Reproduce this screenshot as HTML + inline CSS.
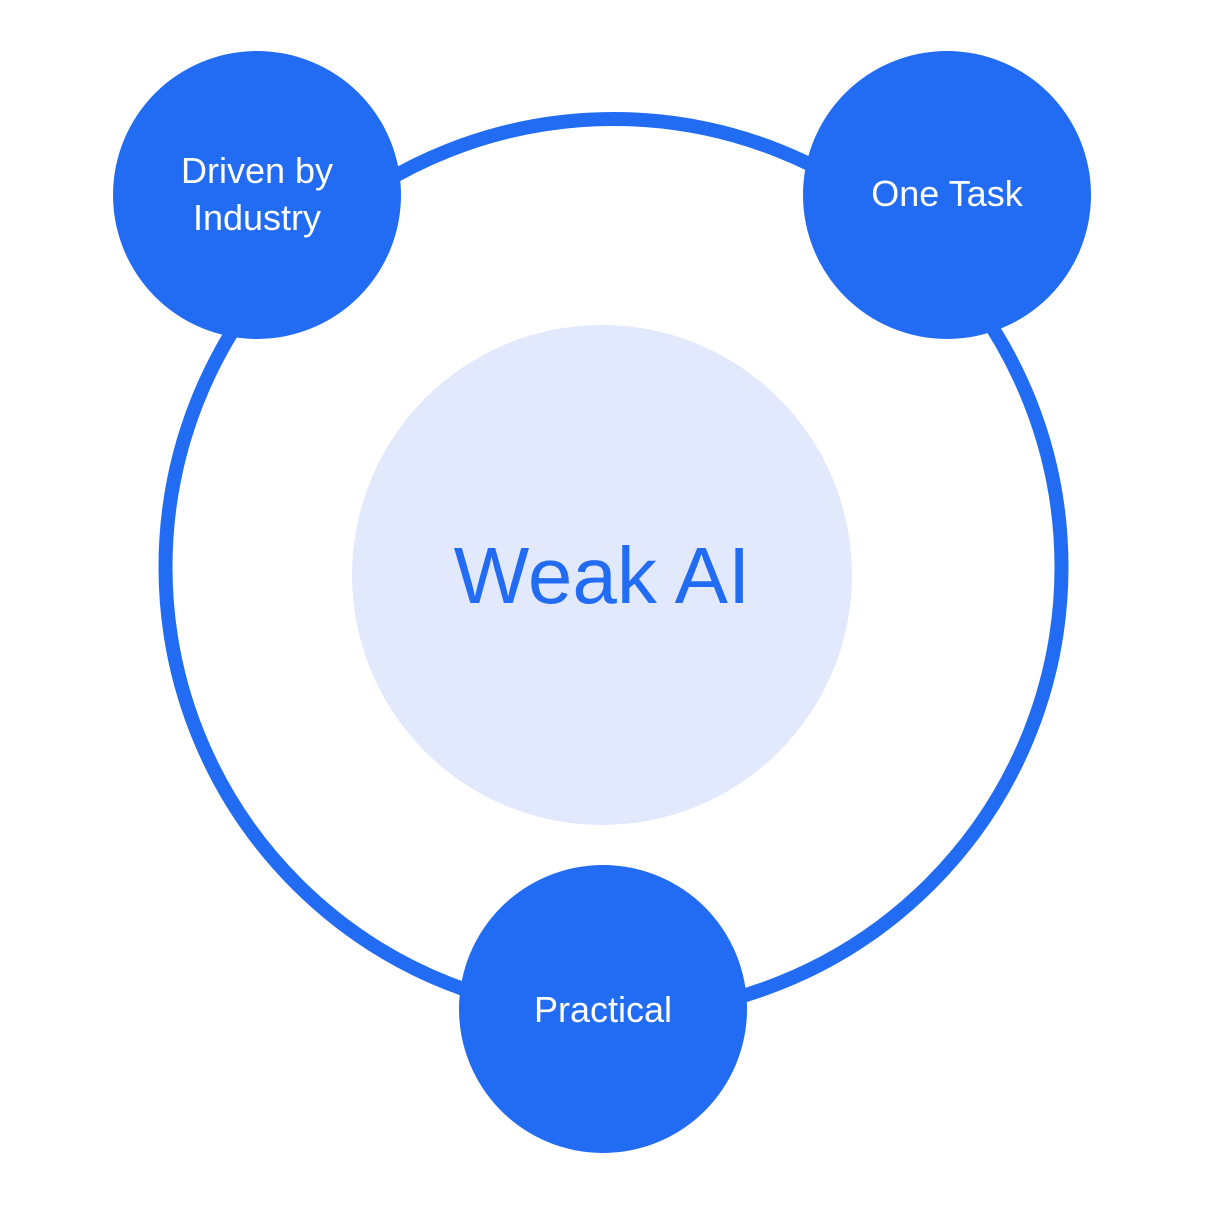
<!DOCTYPE html>
<html><head><meta charset="utf-8"><style>
html,body{margin:0;padding:0;background:#fff;}
svg{display:block;}
text{font-family:"Liberation Sans",sans-serif;}
</style></head><body>
<svg width="1205" height="1205" viewBox="0 0 1205 1205" xmlns="http://www.w3.org/2000/svg">
<rect width="1205" height="1205" fill="#fff"/>
<circle cx="613.5" cy="567" r="448" fill="none" stroke="#226cf3" stroke-width="14"/>
<circle cx="602" cy="575" r="250" fill="#e2e9fd"/>
<text x="602" y="603" text-anchor="middle" font-size="80" font-weight="500" fill="#226cf3">Weak AI</text>
<circle cx="257" cy="195" r="144" fill="#226cf3"/>
<circle cx="947" cy="195" r="144" fill="#226cf3"/>
<circle cx="603" cy="1009" r="144" fill="#226cf3"/>
<text x="257" y="183" text-anchor="middle" font-size="36" fill="#fff">Driven by</text>
<text x="257" y="230" text-anchor="middle" font-size="36" fill="#fff">Industry</text>
<text x="947" y="206" text-anchor="middle" font-size="36" fill="#fff">One Task</text>
<text x="603" y="1022" text-anchor="middle" font-size="36" fill="#fff">Practical</text>
</svg>
</body></html>
